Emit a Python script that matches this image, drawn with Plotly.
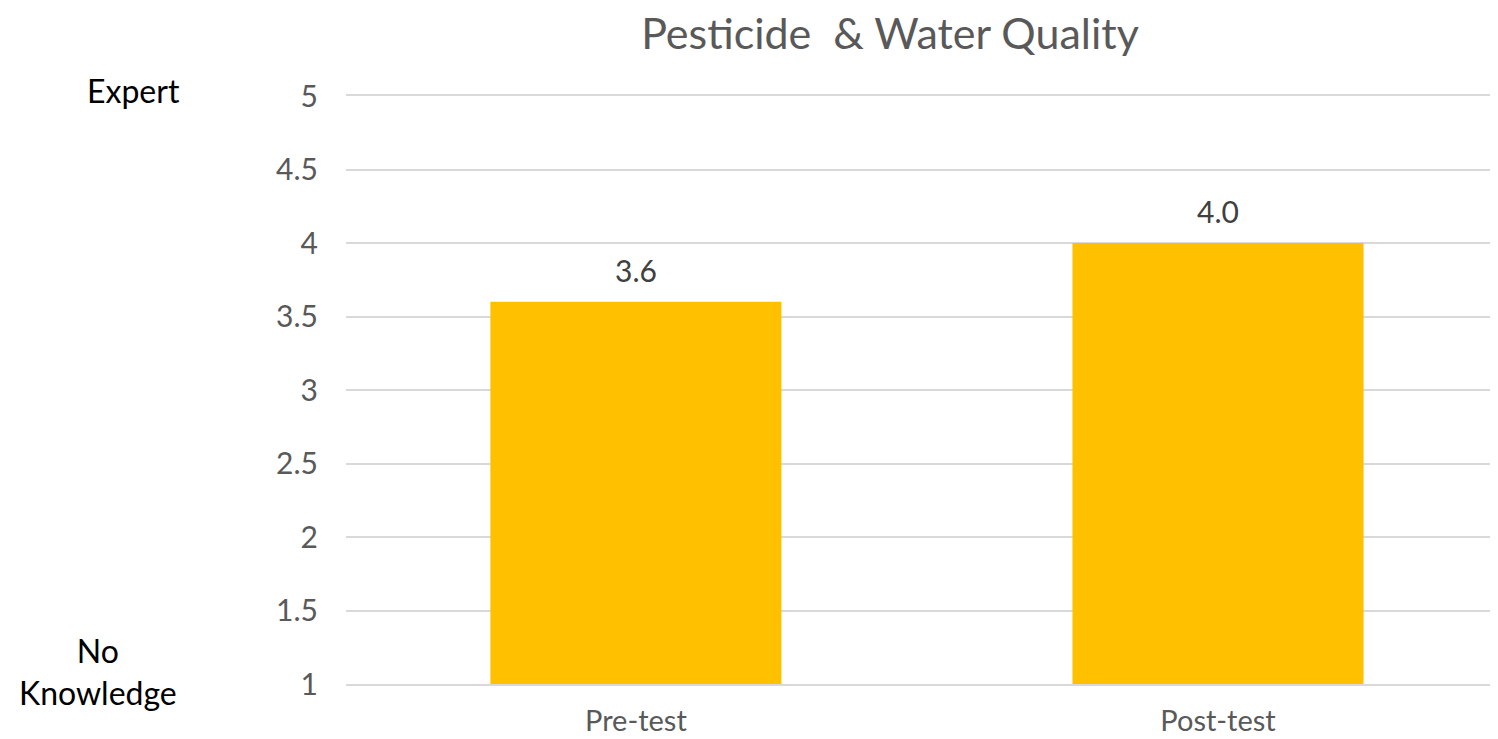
import plotly.graph_objects as go

categories = ["Pre-test", "Post-test"]
scores = [3.6, 4.0]
score_labels = ["3.6", "4.0"]
y_ticks = [1, 1.5, 2, 2.5, 3, 3.5, 4, 4.5, 5]
y_tick_text = ["1", "1.5", "2", "2.5", "3", "3.5", "4", "4.5", "5"]

FONT = "Lato"

# figure geometry (page body adds an 8px margin)
W, H = 1490, 731
L, T, B = 338, 88, 55
PW = W - L
PH = H - T - B


def px_x(x):
    return (x - L) / PW


def px_y(y):
    return (H - B - y) / PH


fig = go.Figure(
    go.Bar(
        x=categories,
        y=scores,
        width=0.5,
        marker=dict(color="#FFC000", line=dict(width=0)),
        hoverinfo="x+y",
    )
)

annotations = []
for c, v, t in zip(categories, scores, score_labels):
    annotations.append(
        dict(
            x=c, y=v, xref="x", yref="y",
            text=t, showarrow=False,
            xanchor="center", yanchor="bottom",
            yshift=12,
            font=dict(family=FONT, size=30, color="#404040"),
        )
    )

annotations += [
    dict(
        text="Expert",
        x=px_x(125), y=px_y(82),
        xref="paper", yref="paper",
        xanchor="center", yanchor="middle",
        showarrow=False,
        font=dict(family=FONT, size=32, color="#000000"),
    ),
    dict(
        text="No<br>Knowledge",
        x=px_x(90), y=px_y(663),
        xref="paper", yref="paper",
        xanchor="center", yanchor="middle",
        showarrow=False,
        align="center",
        font=dict(family=FONT, size=32, color="#000000"),
    ),
]

fig.update_layout(
    width=W,
    height=H,
    margin=dict(l=L, r=0, t=T, b=B, autoexpand=False),
    paper_bgcolor="white",
    plot_bgcolor="white",
    showlegend=False,
    title=dict(
        text="Pesticide  &amp; Water Quality",
        x=882 / W,
        xanchor="center",
        y=1 - 26 / H,
        yanchor="middle",
        font=dict(family=FONT, size=43, color="#595959"),
    ),
    xaxis=dict(
        range=[-0.498, 1.481],
        automargin=False,
        showgrid=False,
        showline=True,
        mirror=True,
        linecolor="#D9D9D9",
        linewidth=2,
        ticks="",
        ticklabelstandoff=10,
        tickfont=dict(family=FONT, size=29, color="#595959"),
    ),
    yaxis=dict(
        range=[1, 5],
        automargin=False,
        tickvals=y_ticks,
        ticktext=y_tick_text,
        showgrid=True,
        gridcolor="#D9D9D9",
        gridwidth=2,
        zeroline=False,
        showline=False,
        ticks="",
        ticklabelstandoff=27,
        tickfont=dict(family=FONT, size=30, color="#595959"),
    ),
    annotations=annotations,
)

fig.write_html("out.html")
